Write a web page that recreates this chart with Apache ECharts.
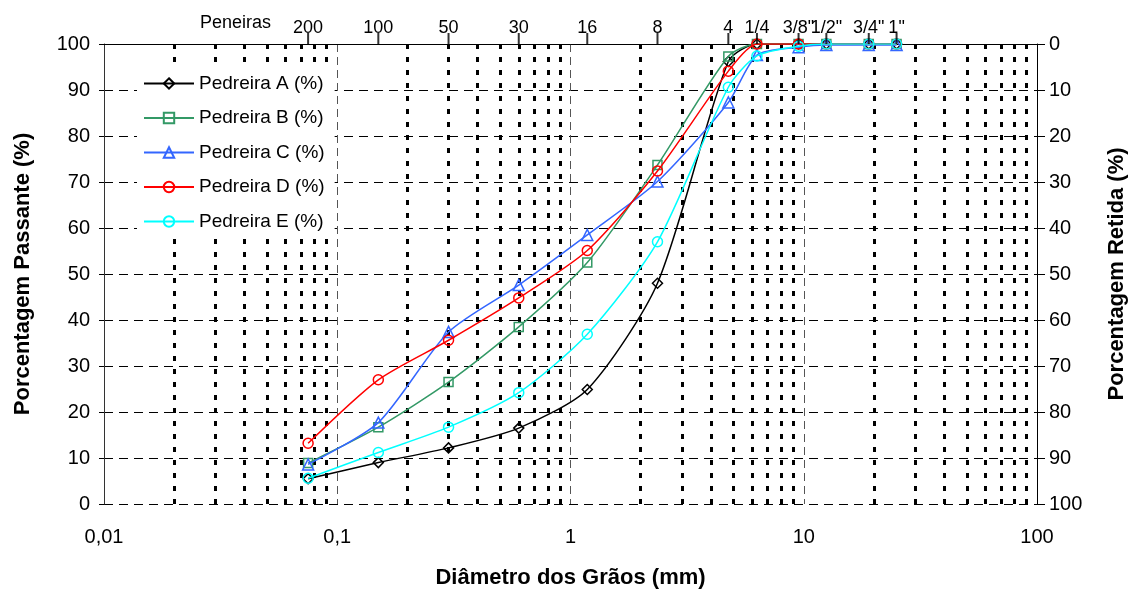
<!DOCTYPE html>
<html>
<head>
<meta charset="utf-8">
<script src="https://cdn.jsdelivr.net/npm/echarts@6/dist/echarts.min.js"></script>
<style>
  html, body { margin: 0; padding: 0; background: #ffffff; }
  #chart { width: 1130px; height: 590px; }
</style>
</head>
<body>
<div id="chart"></div>
<script>
// Sieve openings (mm) and the sieve designations printed on the top axis
const sieveSizes = [0.075, 0.15, 0.3, 0.6, 1.18, 2.36, 4.75, 6.3, 9.5, 12.5, 19, 25];
const sieveLabels = ['200', '100', '50', '30', '16', '8', '4', '1/4', '3/8"', '1/2"', '3/4"', '1"'];

// Percent passing for each quarry, one value per sieve
const pedreiraA = [5.5, 9.0, 12.2, 16.5, 24.9, 48.0, 96.2, 100, 100, 100, 100, 100];
const pedreiraB = [8.9, 16.7, 26.5, 38.5, 52.5, 73.7, 97.3, 100, 100, 100, 100, 100];
const pedreiraC = [8.6, 17.7, 37.4, 47.6, 58.5, 70.1, 87.3, 97.6, 99.3, 99.8, 99.8, 99.8];
const pedreiraD = [13.2, 27.0, 35.6, 44.8, 55.1, 72.4, 94.1, 100, 100, 100, 100, 100];
const pedreiraE = [5.6, 11.2, 16.7, 24.2, 36.9, 57.0, 90.6, 97.4, 99.5, 100, 100, 100];

const seriesNames = ['Pedreira A (%)', 'Pedreira B (%)', 'Pedreira C (%)', 'Pedreira D (%)', 'Pedreira E (%)'];
const seriesColors = ['#000000', '#339966', '#3366ff', '#ff0000', '#00ffff'];
const seriesSymbols = ['diamond', 'rect', 'triangle', 'circle', 'circle'];
const seriesSizes = [10, 9, 11, 10, 10];
const seriesValues = [pedreiraA, pedreiraB, pedreiraC, pedreiraD, pedreiraE];

// Diameter axis (log scale) ticks and their labels
const diameterTicks = [0.01, 0.1, 1, 10, 100];
const diameterTickLabels = ['0,01', '0,1', '1', '10', '100'];

// Intermediate log gridlines: 2..9 within each decade
const minorGrid = [];
diameterTicks.slice(0, -1).forEach(function (d) {
  for (let k = 2; k <= 9; k++) minorGrid.push(Number((k * d).toPrecision(3)));
});

const FONT = 'Liberation Sans, Arial, sans-serif';

function nearestIndex(arr, v) {
  let best = 0;
  for (let i = 1; i < arr.length; i++) {
    if (Math.abs(Math.log(arr[i] / v)) < Math.abs(Math.log(arr[best] / v))) best = i;
  }
  return best;
}

const chart = echarts.init(document.getElementById('chart'), null, { renderer: 'canvas' });

const series = seriesNames.map(function (name, s) {
  return {
    name: name,
    type: 'line',
    xAxisIndex: 0,
    yAxisIndex: 0,
    data: sieveSizes.map(function (d, i) { return [d, seriesValues[s][i]]; }),
    smooth: 0.25,
    symbol: seriesSymbols[s],
    symbolSize: seriesSizes[s],
    showAllSymbol: true,
    lineStyle: { color: seriesColors[s], width: 1.5 },
    itemStyle: { color: 'rgba(255,255,255,0)', borderColor: seriesColors[s], borderWidth: 1.5 },
    emphasis: { disabled: true },
    z: 3 + s
  };
});

// Tick marks of the sieve axis, standing on the top edge of the plot
series.push({
  type: 'scatter',
  xAxisIndex: 2,
  yAxisIndex: 0,
  data: sieveSizes.map(function (d) { return [d, 100]; }),
  symbol: 'rect',
  symbolSize: [2, 11],
  symbolOffset: [0, -5.5],
  itemStyle: { color: '#000' },
  silent: true,
  clip: false,
  z: 20
});

const option = {
  animation: false,
  backgroundColor: '#ffffff',
  textStyle: { fontFamily: FONT },
  grid: { left: 104, right: 93, top: 44, bottom: 86, outerBoundsMode: 'none', containLabel: false },
  tooltip: { show: false },
  legend: {
    orient: 'vertical',
    left: 137,
    top: 62,
    padding: [12, 10, 8, 6],
    itemWidth: 50,
    itemHeight: 13,
    itemGap: 15.5,
    itemTextGap: 5,
    backgroundColor: '#ffffff',
    textStyle: { fontFamily: FONT, fontSize: 19, color: '#000' },
    data: seriesNames
  },
  graphic: [{
    type: 'text',
    left: 200,
    top: 14,
    style: { text: 'Peneiras', fontFamily: FONT, fontSize: 18, fill: '#000' }
  }],
  xAxis: [
    {
      // bottom diameter axis with decade gridlines
      type: 'log',
      logBase: 10,
      min: 0.01,
      max: 100,
      position: 'bottom',
      name: 'Diâmetro dos Grãos (mm)',
      nameLocation: 'middle',
      nameGap: 63,
      nameTextStyle: { fontFamily: FONT, fontSize: 22, fontWeight: 'bold', color: '#000' },
      axisLine: { show: false },
      axisTick: { show: false },
      axisLabel: {
        margin: 23,
        fontFamily: FONT,
        fontSize: 20,
        color: '#000',
        formatter: function (v) { return diameterTickLabels[nearestIndex(diameterTicks, v)]; }
      },
      splitLine: { show: true, lineStyle: { color: '#555', width: 1, type: [8, 5] } }
    },
    {
      // intermediate dotted gridlines
      type: 'log',
      logBase: 10,
      min: 0.01,
      max: 100,
      position: 'bottom',
      axisLine: { show: false },
      axisTick: { show: false, customValues: minorGrid },
      axisLabel: { show: false, customValues: minorGrid },
      splitLine: { show: true, lineStyle: { color: '#000', width: 3, type: [5, 8] } }
    },
    {
      // top sieve axis
      type: 'log',
      logBase: 10,
      min: 0.01,
      max: 100,
      position: 'top',
      axisLine: { show: true, lineStyle: { color: '#000', width: 1 } },
      axisTick: { show: false },
      axisLabel: {
        show: true,
        margin: 7,
        fontFamily: FONT,
        fontSize: 18,
        color: '#000',
        customValues: sieveSizes,
        formatter: function (v) { return sieveLabels[nearestIndex(sieveSizes, v)]; }
      },
      splitLine: { show: false }
    }
  ],
  yAxis: [
    {
      type: 'value',
      min: 0,
      max: 100,
      interval: 10,
      position: 'left',
      name: 'Porcentagem Passante (%)',
      nameLocation: 'middle',
      nameRotate: 90,
      nameGap: 70,
      nameTextStyle: { fontFamily: FONT, fontSize: 22, fontWeight: 'bold', color: '#000' },
      axisLine: { show: true, lineStyle: { color: '#333', width: 1 } },
      axisTick: { show: true, length: 5, lineStyle: { color: '#000' } },
      axisLabel: { margin: 14, fontFamily: FONT, fontSize: 20, color: '#000' },
      splitLine: { show: true, lineStyle: { color: '#000', width: 1, type: [9, 6] } }
    },
    {
      type: 'value',
      min: 0,
      max: 100,
      interval: 10,
      inverse: true,
      position: 'right',
      name: 'Porcentagem Retida (%)',
      nameLocation: 'middle',
      nameRotate: 90,
      nameGap: 69,
      nameTextStyle: { fontFamily: FONT, fontSize: 22, fontWeight: 'bold', color: '#000' },
      axisLine: { show: true, lineStyle: { color: '#000', width: 1 } },
      axisTick: { show: true, length: 8, lineStyle: { color: '#000' } },
      axisLabel: { margin: 12, fontFamily: FONT, fontSize: 20, color: '#000' },
      splitLine: { show: false }
    }
  ],
  series: series
};

chart.setOption(option);
</script>
</body>
</html>
